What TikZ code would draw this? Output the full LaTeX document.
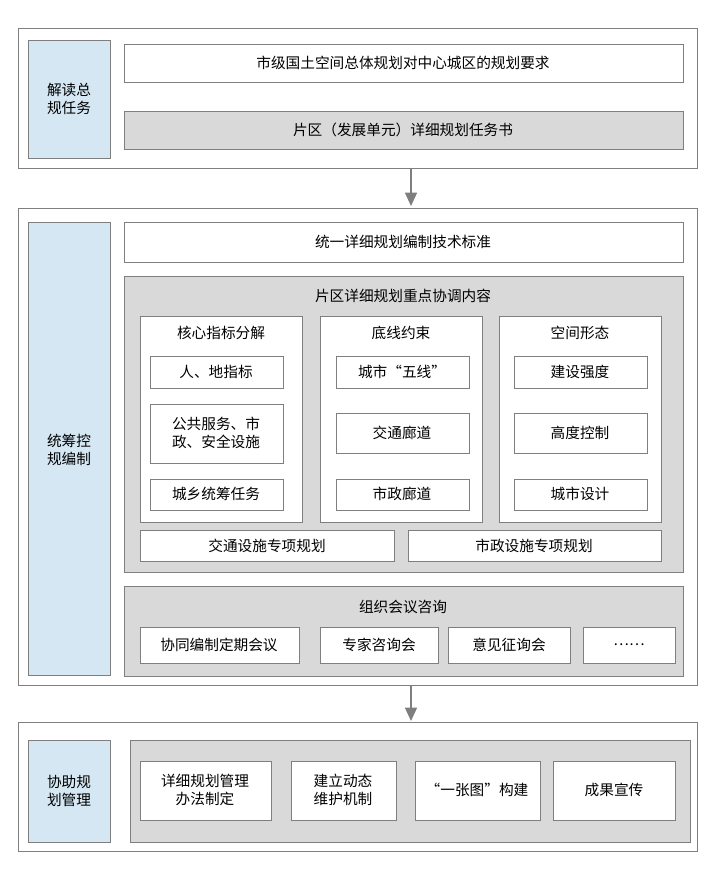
\documentclass[tikz,border=0pt]{standalone}
\usepackage{fontspec}
\setmainfont{Noto Sans CJK SC}
\usetikzlibrary{arrows.meta}
\definecolor{lblue}{HTML}{D5E7F3}
\definecolor{lgray}{HTML}{D9D9D9}
\definecolor{bgray}{HTML}{7F7F7F}
\begin{document}
\begin{tikzpicture}[x=0.75pt,y=-0.75pt,font=\fontsize{11}{14}\selectfont,
  outer/.style={draw=bgray,line width=0.6pt},
  lbl/.style={draw=bgray,fill=lblue,line width=0.6pt},
  wbox/.style={draw=bgray,fill=white,line width=0.6pt},
  gbox/.style={draw=bgray,fill=lgray,line width=0.6pt},
  txt/.style={align=center,inner sep=0pt},
  arr/.style={-{Triangle[width=9pt,length=10pt]},draw=bgray,fill=bgray,line width=1pt}]
\useasboundingbox (0,0) rectangle (709,876);
% box 1
\draw[outer] (18,28) rectangle (697,168);
\draw[lbl] (28,40) rectangle (110,158);
\node[txt] (l1) at (69,99) {解读总\\规任务};
\draw[wbox] (124,44) rectangle (683,82);
\node[txt] (a1) at (403,63) {市级国土空间总体规划对中心城区的规划要求};
\draw[gbox] (124,111) rectangle (683,149);
\node[txt] (a2) at (403,130) {片区（发展单元）详细规划任务书};
\coordinate (t1) at (411,169);
\coordinate (h1) at (411,206);
\draw[arr] (t1) -- (h1);
% box 2
\draw[outer] (18,208) rectangle (697,685);
\draw[lbl] (28,222) rectangle (110,675);
\node[txt] (l2) at (69,450) {统筹控\\规编制};
\draw[wbox] (124,222) rectangle (683,262);
\node[txt] (b1) at (403,242) {统一详细规划编制技术标准};
\draw[gbox] (124,276) rectangle (683,572);
\node[txt] (b2) at (403,296) {片区详细规划重点协调内容};
\draw[wbox] (140,316) rectangle (302,522);
\draw[wbox] (320,316) rectangle (482,522);
\draw[wbox] (499,316) rectangle (661,522);
\node[txt] (c1) at (221,333) {核心指标分解};
\node[txt] (c2) at (401,333) {底线约束};
\node[txt] (c3) at (580,333) {空间形态};
\draw[wbox] (150,356) rectangle (283,388); \node[txt] (d1) at (216,372) {人、地指标};
\draw[wbox] (150,404) rectangle (283,463); \node[txt] (d2) at (216,433) {公共服务、市\\政、安全设施};
\draw[wbox] (150,479) rectangle (283,510); \node[txt] (d3) at (216,494) {城乡统筹任务};
\draw[wbox] (336,356) rectangle (469,388); \node[txt] (e1) at (402,372) {城市“五线”};
\draw[wbox] (336,413) rectangle (469,453); \node[txt] (e2) at (402,433) {交通廊道};
\draw[wbox] (336,479) rectangle (469,510); \node[txt] (e3) at (402,494) {市政廊道};
\draw[wbox] (514,356) rectangle (647,388); \node[txt] (f1) at (580,372) {建设强度};
\draw[wbox] (514,413) rectangle (647,453); \node[txt] (f2) at (580,433) {高度控制};
\draw[wbox] (514,479) rectangle (647,510); \node[txt] (f3) at (580,494) {城市设计};
\draw[wbox] (140,530) rectangle (394,561); \node[txt] (g1) at (267,546) {交通设施专项规划};
\draw[wbox] (408,530) rectangle (661,561); \node[txt] (g2) at (534,546) {市政设施专项规划};
\draw[gbox] (124,586) rectangle (683,676);
\node[txt] (h0) at (403,607) {组织会议咨询};
\draw[wbox] (140,627) rectangle (299,663); \node[txt] (i1) at (219,645) {协同编制定期会议};
\draw[wbox] (320,627) rectangle (438,663); \node[txt] (i2) at (379,645) {专家咨询会};
\draw[wbox] (448,627) rectangle (570,663); \node[txt] (i3) at (509,645) {意见征询会};
\draw[wbox] (583,627) rectangle (675,663); \node[txt] (i4) at (629,645) {……};
\coordinate (t2) at (411,686);
\coordinate (h2) at (411,721);
\draw[arr] (t2) -- (h2);
% box 3
\draw[outer] (18,722) rectangle (697,851);
\draw[lbl] (28,740) rectangle (110,842);
\node[txt] (l3) at (69,791) {协助规\\划管理};
\draw[gbox] (130,740) rectangle (690,842);
\draw[wbox] (140,761) rectangle (271,820); \node[txt] (j1) at (205,790) {详细规划管理\\办法制定};
\draw[wbox] (291,761) rectangle (396,820); \node[txt] (j2) at (343,790) {建立动态\\维护机制};
\draw[wbox] (415,761) rectangle (540,820); \node[txt] (j3) at (477,790) {“一张图”构建};
\draw[wbox] (553,761) rectangle (675,820); \node[txt] (j4) at (614,790) {成果宣传};
\end{tikzpicture}
\end{document}
